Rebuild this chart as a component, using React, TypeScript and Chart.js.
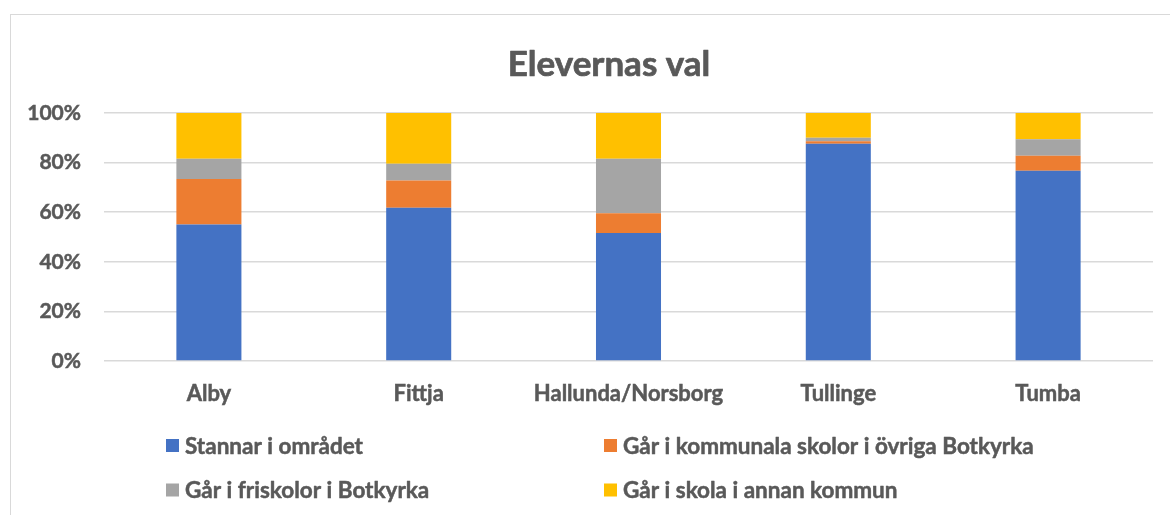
import React, { useEffect, useRef } from "react";
import { Chart, registerables } from "chart.js";

Chart.register(...registerables);

const categories = ["Alby", "Fittja", "Hallunda/Norsborg", "Tullinge", "Tumba"];
const seriesNames = [
  "Stannar i området",
  "Går i kommunala skolor i övriga Botkyrka",
  "Går i friskolor i Botkyrka",
  "Går i skola i annan kommun",
];
const stannar = [55.0, 61.8, 51.6, 87.6, 76.7];
const kommunala = [18.4, 11.0, 8.0, 1.0, 6.1];
const friskolor = [8.2, 6.7, 22.0, 1.4, 6.6];
const annanKommun = [18.4, 20.5, 18.4, 10.0, 10.6];
const yTicks = [0, 20, 40, 60, 80, 100];
const titleText = "Elevernas val";

const colors = ["#4472C4", "#ED7D31", "#A5A5A5", "#FFC000"];
const TEXT = "#595959";
const FONT = "Lato, 'Open Sans', sans-serif";

const textPlugin = {
  id: "titleAndLegend",
  afterDraw(chart: any) {
    const ctx = chart.ctx;
    ctx.save();
    // title
    ctx.font = `bold 35px ${FONT}`;
    ctx.textBaseline = "middle";
    ctx.textAlign = "center";
    ctx.fillStyle = TEXT;
    ctx.strokeStyle = TEXT;
    ctx.lineWidth = 0.7;
    ctx.lineJoin = "round";
    ctx.fillText(titleText, 609, 65);
    ctx.strokeText(titleText, 609, 65);
    // legend, two columns
    const cols = [166, 604];
    const rows = [445.5, 490];
    ctx.font = `bold 22.5px ${FONT}`;
    ctx.textAlign = "left";
    ctx.lineWidth = 0.5;
    chart.data.datasets.forEach((ds: any, i: number) => {
      const x = cols[i % 2];
      const y = rows[Math.floor(i / 2)];
      ctx.fillStyle = ds.backgroundColor;
      ctx.fillRect(x, y - 6.5, 13, 13);
      ctx.fillStyle = TEXT;
      ctx.fillText(ds.label, x + 19, y + 1);
      ctx.strokeText(ds.label, x + 19, y + 1);
    });
    ctx.restore();
  },
};

export default function App() {
  const ref = useRef<HTMLCanvasElement | null>(null);
  useEffect(() => {
    if (!ref.current) return;
    const data = [stannar, kommunala, friskolor, annanKommun];
    const chart = new Chart(ref.current, {
      type: "bar",
      data: {
        labels: categories,
        datasets: seriesNames.map((name, i) => ({
          label: name,
          data: data[i],
          backgroundColor: colors[i],
          borderWidth: 0,
          barPercentage: 0.31,
          categoryPercentage: 1,
        })),
      },
      options: {
        animation: false,
        responsive: false,
        maintainAspectRatio: false,
        layout: { padding: { top: 113, right: 17, bottom: 104, left: 0 } },
        plugins: {
          legend: { display: false },
          tooltip: { enabled: false },
          title: { display: false },
        },
        scales: {
          x: {
            stacked: true,
            grid: { display: false },
            border: { display: false },
            ticks: {
              color: TEXT,
              font: { family: FONT, size: 22, weight: "bold" },
              padding: 11.5,
              maxRotation: 0,
              textStrokeColor: TEXT,
              textStrokeWidth: 0.5,
            },
            afterFit: (s: any) => {
              s.height = 50;
            },
          },
          y: {
            stacked: true,
            min: 0,
            max: 100,
            afterBuildTicks: (s: any) => {
              s.ticks = yTicks.map((v) => ({ value: v }));
            },
            grid: { color: "#d9d9d9", lineWidth: 1.5, drawTicks: false },
            border: { display: false },
            ticks: {
              color: TEXT,
              font: { family: FONT, size: 21, weight: "bold" },
              padding: 23,
              textStrokeColor: TEXT,
              textStrokeWidth: 0.5,
              callback: (v: any) => v + "%",
            },
            afterFit: (s: any) => {
              s.width = 104;
            },
          },
        },
      },
      plugins: [textPlugin],
    });
    return () => chart.destroy();
  }, []);

  return (
    <div style={{ position: "absolute", left: 0, top: 0, width: 1170, height: 515, overflow: "hidden", background: "#fff" }}>
      <div
        style={{
          position: "absolute",
          left: 10,
          top: 14,
          width: 1300,
          height: 700,
          border: "1.5px solid #d9d9d9",
        }}
      />
      <canvas ref={ref} width={1170} height={515} style={{ position: "absolute", left: 0, top: 0, width: 1170, height: 515 }} />
    </div>
  );
}
